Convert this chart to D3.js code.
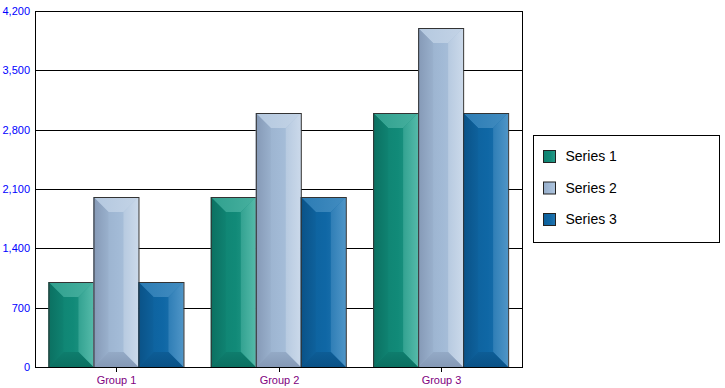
<!DOCTYPE html>
<html>
<head>
<meta charset="utf-8">
<script src="https://cdn.jsdelivr.net/npm/d3@7"></script>
<style>
  body { margin: 0; background: #fff; }
  text { font-family: "Liberation Sans", Arial, sans-serif; }
</style>
</head>
<body>
<svg id="chart" width="725" height="388"></svg>
<script>
const groups = ["Group 1", "Group 2", "Group 3"];
const seriesNames = ["Series 1", "Series 2", "Series 3"];
const series1 = [1000, 2000, 3000];
const series2 = [2000, 3000, 4000];
const series3 = [1000, 2000, 3000];
const yTicks = [0, 700, 1400, 2100, 2800, 3500, 4200];

// base / dark / light shades per series
const palette = [
    { base: "#118a78", dark: "#0b7061", light: "#55baa9" },
    { base: "#a2bad6", dark: "#8599b6", light: "#cbd9ea" },
    { base: "#0f67a5", dark: "#0a5287", light: "#4f95c7" }
];

const svg = d3.select("#chart");
const margin = { top: 11, right: 203, bottom: 21, left: 35 };
const width = +svg.attr("width") - margin.left - margin.right;
const height = +svg.attr("height") - margin.top - margin.bottom;
const g = svg.append("g").attr("transform", `translate(${margin.left},${margin.top})`);

const data = groups.map((grp, i) => ({
    group: grp,
    values: [series1[i], series2[i], series3[i]]
}));

const x0 = d3.scaleBand().domain(groups).range([0, width]).paddingInner(0.166).paddingOuter(0.083);
const x1 = d3.scaleBand().domain(d3.range(3)).range([0, x0.bandwidth()]);
const y = d3.scaleLinear().domain([0, 4200]).range([height, 0]);

// gradients
const defs = svg.append("defs");
palette.forEach((p, i) => {
    const mk = (id, stops, vertical) => {
        const lg = defs.append("linearGradient").attr("id", id)
            .attr("x1", 0).attr("y1", 0).attr("x2", vertical ? 0 : 1).attr("y2", vertical ? 1 : 0);
        stops.forEach(([o, c]) => lg.append("stop").attr("offset", o).attr("stop-color", c));
    };
    const mix = d3.interpolate;
    mk(`c${i}`, [[0, mix(p.dark, p.base)(0.6)], [0.55, p.base], [1, mix(p.base, p.light)(0.35)]]);
    mk(`t${i}`, [[0, mix(p.base, p.light)(0.45)], [1, mix(p.base, p.light)(0.8)]]);
    mk(`l${i}`, [[0, p.dark], [1, mix(p.dark, p.base)(0.7)]]);
    mk(`r${i}`, [[0, mix(p.base, p.light)(0.5)], [1, p.light]]);
    mk(`b${i}`, [[0, mix(p.dark, p.base)(0.5)], [1, p.dark]], true);
});

// gridlines
g.selectAll(".grid").data(yTicks).enter().append("line")
    .attr("x1", 0).attr("x2", width)
    .attr("y1", d => Math.round(y(d)) + 0.5).attr("y2", d => Math.round(y(d)) + 0.5)
    .attr("stroke", "#000");

// y labels
g.selectAll(".ylab").data(yTicks).enter().append("text")
    .attr("x", -5).attr("y", d => y(d)).attr("dy", "0.35em")
    .attr("text-anchor", "end").attr("font-size", 11).attr("fill", "#0000ff")
    .text(d => d3.format(",")(d));

// bars
const groupG = g.selectAll(".grp").data(data).enter().append("g")
    .attr("transform", d => `translate(${x0(d.group)},0)`);

groupG.each(function(d) {
    const gg = d3.select(this);
    d.values.forEach((v, i) => {
        const x = Math.round(x1(i)), w = Math.round(x1.bandwidth());
        const top = Math.round(y(v)), bot = Math.round(y(0));
        const h = bot - top;
        const b = Math.min(15, w / 3, h / 3);
        const poly = pts => pts.map(p => p.join(",")).join(" ");
        const bar = gg.append("g");
        bar.append("rect").attr("x", x).attr("y", top).attr("width", w).attr("height", h)
            .attr("fill", `url(#c${i})`);
        bar.append("polygon").attr("fill", `url(#t${i})`)
            .attr("points", poly([[x, top], [x + w, top], [x + w - b, top + b], [x + b, top + b]]));
        bar.append("polygon").attr("fill", `url(#l${i})`)
            .attr("points", poly([[x, top], [x + b, top + b], [x + b, bot - b], [x, bot]]));
        bar.append("polygon").attr("fill", `url(#r${i})`)
            .attr("points", poly([[x + w, top], [x + w, bot], [x + w - b, bot - b], [x + w - b, top + b]]));
        bar.append("polygon").attr("fill", `url(#b${i})`)
            .attr("points", poly([[x, bot], [x + b, bot - b], [x + w - b, bot - b], [x + w, bot]]));
        bar.append("rect").attr("x", x + 0.5).attr("y", top + 0.5).attr("width", w).attr("height", h)
            .attr("fill", "none").attr("stroke", "#333").attr("stroke-width", 1);
    });
});

// frame
g.append("rect").attr("x", 0.5).attr("y", 0.5).attr("width", width).attr("height", height)
    .attr("fill", "none").attr("stroke", "#000");

// x ticks + labels
const xt = g.selectAll(".xt").data(groups).enter().append("g")
    .attr("transform", d => `translate(${Math.round(x0(d) + x0.bandwidth() / 2) + 0.5},${height})`);
xt.append("line").attr("y1", 0).attr("y2", 5).attr("stroke", "#000");
xt.append("text").attr("y", 17).attr("text-anchor", "middle")
    .attr("font-size", 11).attr("fill", "#800080").text(d => d);

// legend
const legend = svg.append("g").attr("transform", "translate(533.5,135.5)");
legend.append("rect").attr("width", 186).attr("height", 107).attr("fill", "#fff").attr("stroke", "#000");
const li = legend.selectAll(".li").data(seriesNames).enter().append("g")
    .attr("transform", (d, i) => `translate(10,${15 + i * 31.5})`);
li.append("rect").attr("width", 12).attr("height", 12)
    .attr("fill", (d, i) => `url(#c${i})`).attr("stroke", "#222");
li.append("text").attr("x", 22).attr("y", 6).attr("dy", "0.35em")
    .attr("font-size", 14).attr("fill", "#000").text(d => d);
</script>
</body>
</html>
